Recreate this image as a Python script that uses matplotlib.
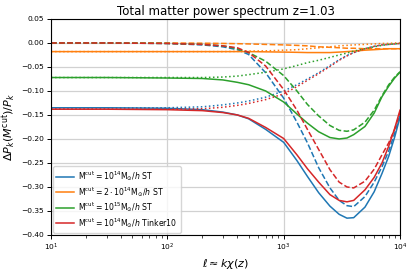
import matplotlib
matplotlib.use('Agg')
import matplotlib.pyplot as plt
import numpy as np

# multipoles
ell = [10, 30, 100, 200, 300, 400, 500, 700, 1000, 1300, 1600, 2000,
       2500, 3000, 3500, 4000, 5000, 6000, 7000, 8000, 9000, 10000]

# M_cut = 1e14 ST (blue)
blue_tot = [-0.135, -0.135, -0.136, -0.139, -0.144, -0.150, -0.158, -0.180, -0.207, -0.245, -0.278,
            -0.312, -0.340, -0.357, -0.365, -0.364, -0.342, -0.310, -0.272, -0.236, -0.196, -0.155]
blue_1h = [0.0, 0.0, -0.001, -0.004, -0.008, -0.014, -0.024, -0.062, -0.115, -0.165, -0.208,
           -0.260, -0.302, -0.328, -0.339, -0.341, -0.320, -0.290, -0.258, -0.225, -0.188, -0.150]
blue_2h = [-0.135, -0.135, -0.135, -0.133, -0.129, -0.125, -0.121, -0.113, -0.100, -0.087, -0.075,
           -0.062, -0.047, -0.035, -0.026, -0.020, -0.012, -0.007, -0.004, -0.003, -0.002, -0.001]

# M_cut = 2e14 ST (orange)
orange_tot = [-0.018, -0.018, -0.018, -0.018, -0.018, -0.018, -0.018, -0.0185, -0.019, -0.0195, -0.020,
              -0.020, -0.020, -0.019, -0.018, -0.017, -0.015, -0.014, -0.013, -0.012, -0.012, -0.012]
orange_1h = [0.0, 0.0, 0.0, -0.0005, -0.001, -0.0015, -0.002, -0.003, -0.004, -0.005, -0.006,
             -0.008, -0.009, -0.010, -0.011, -0.011, -0.012, -0.012, -0.012, -0.012, -0.012, -0.012]
orange_2h = [-0.018, -0.018, -0.018, -0.018, -0.018, -0.0175, -0.017, -0.0165, -0.015, -0.014, -0.012,
             -0.010, -0.008, -0.006, -0.005, -0.004, -0.003, -0.002, -0.001, -0.001, 0.0, 0.0]

# M_cut = 1e15 ST (green)
green_tot = [-0.072, -0.072, -0.073, -0.074, -0.077, -0.082, -0.087, -0.100, -0.123, -0.148, -0.167,
             -0.185, -0.197, -0.200, -0.198, -0.191, -0.174, -0.146, -0.112, -0.090, -0.073, -0.061]
green_1h = [0.0, 0.0, -0.001, -0.003, -0.006, -0.012, -0.020, -0.038, -0.068, -0.100, -0.128,
            -0.152, -0.172, -0.182, -0.184, -0.181, -0.165, -0.140, -0.110, -0.087, -0.071, -0.060]
green_2h = [-0.072, -0.072, -0.072, -0.072, -0.071, -0.069, -0.066, -0.061, -0.054, -0.047, -0.041,
            -0.036, -0.030, -0.025, -0.021, -0.017, -0.012, -0.008, -0.005, -0.003, -0.002, -0.001]

# M_cut = 1e14 Tinker10 (red)
red_tot = [-0.138, -0.138, -0.139, -0.141, -0.145, -0.150, -0.157, -0.176, -0.199, -0.233, -0.262,
           -0.290, -0.316, -0.328, -0.331, -0.328, -0.306, -0.280, -0.250, -0.215, -0.178, -0.140]
red_1h = [0.0, 0.0, -0.001, -0.003, -0.006, -0.010, -0.020, -0.048, -0.097, -0.140, -0.180,
          -0.222, -0.264, -0.290, -0.300, -0.302, -0.288, -0.263, -0.233, -0.208, -0.180, -0.145]
red_2h = [-0.138, -0.138, -0.138, -0.137, -0.134, -0.130, -0.126, -0.118, -0.106, -0.091, -0.078,
          -0.064, -0.049, -0.036, -0.027, -0.020, -0.012, -0.007, -0.004, -0.003, -0.002, -0.001]

labels = [r'$\mathrm{M}^{\rm cut} = 10^{14}\mathrm{M}_{\odot}/h$ ST',
          r'$\mathrm{M}^{\rm cut} = 2\cdot10^{14}\mathrm{M}_{\odot}/h$ ST',
          r'$\mathrm{M}^{\rm cut} = 10^{15}\mathrm{M}_{\odot}/h$ ST',
          r'$\mathrm{M}^{\rm cut} = 10^{14}\mathrm{M}_{\odot}/h$ Tinker10']
colors = ['C0', 'C1', 'C2', 'C3']
series = [(blue_tot, blue_1h, blue_2h),
          (orange_tot, orange_1h, orange_2h),
          (green_tot, green_1h, green_2h),
          (red_tot, red_1h, red_2h)]

fig = plt.figure(figsize=(4.13, 2.71), dpi=100)
ax = fig.add_axes([0.1235, 0.133, 0.845, 0.797])

for (tot, one, two), c, lab in zip(series, colors, labels):
    ax.plot(ell, tot, color=c, lw=1.1, label=lab)
    ax.plot(ell, one, color=c, lw=1.1, ls='--')
    ax.plot(ell, two, color=c, lw=1.1, ls=':')

ax.set_xscale('log')
ax.set_xlim(10, 1e4)
ax.set_ylim(-0.40, 0.05)
ax.set_yticks(np.arange(-0.40, 0.051, 0.05))
ax.grid(True, which='major', color='0.82', lw=0.9)
ax.tick_params(labelsize=5.4, length=3, width=0.7, pad=2)
ax.tick_params(which='minor', length=1.8, width=0.5)
for s in ax.spines.values():
    s.set_linewidth(0.8)

ax.set_title('Total matter power spectrum z=1.03', fontsize=8.5, pad=3)
ax.set_xlabel(r'$\ell \approx k\chi(z)$', fontsize=8, labelpad=3)
ax.set_ylabel(r'$\Delta P_k(M^{\rm cut})/P_k$', fontsize=8, labelpad=2)
ax.legend(loc='lower left', fontsize=5.6, handlelength=2.3, borderaxespad=0.3,
          labelspacing=0.2, handletextpad=0.5, borderpad=0.4)

fig.savefig('out.png', dpi=100)
